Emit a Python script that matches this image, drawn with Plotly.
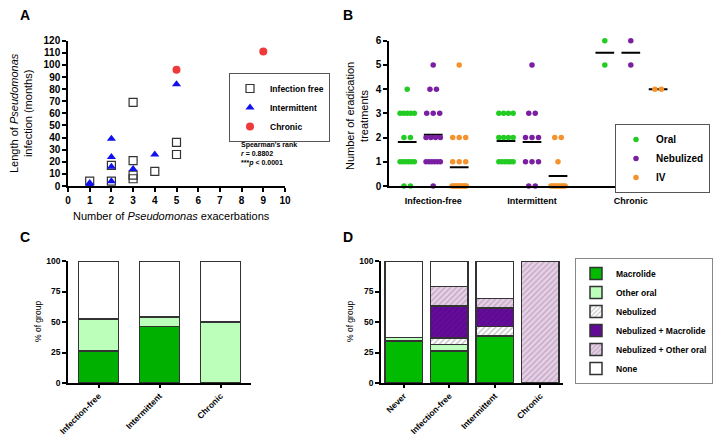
import plotly.graph_objects as go
from collections import Counter

# The page adds an 8px body margin; the figure is sized/placed to compensate.
OFF = 8
W, H = 721 - OFF, 438 - OFF
FONT = "Liberation Sans, Arial, sans-serif"

# ---------------- Panel A data ----------------
a_free_x = [1, 2, 2, 3, 3, 3, 3, 4, 5, 5]
a_free_y = [4, 17, 4, 69, 21, 9, 6, 12, 36, 26]
a_int_x = [1, 1, 2, 2, 2, 2, 3, 4, 5]
a_int_y = [2.5, 0.8, 39, 24, 16, 4, 14, 26, 84]
a_chr_x = [5, 9]
a_chr_y = [96, 111]

# ---------------- Panel B data ----------------
b_groups = ["Infection-free", "Intermittent", "Chronic"]
b_oral = [
    [4, 3, 3, 3, 3, 3, 2, 2, 1, 1, 1, 1, 1, 1, 0, 0],
    [3, 3, 3, 3, 2, 2, 2, 2, 1, 1, 1, 1, 1, 1],
    [6, 5],
]
b_neb = [
    [5, 4, 4, 3, 3, 3, 2, 2, 2, 2, 1, 1, 1, 1, 1, 1, 0],
    [5, 3, 3, 2, 2, 2, 1, 1, 1, 0, 0],
    [6, 5],
]
b_iv = [
    [5, 2, 2, 2, 1, 1, 1, 0, 0, 0, 0, 0, 0, 0, 0, 0, 0, 0],
    [2, 2, 1, 0, 0, 0, 0, 0, 0, 0, 0, 0],
    [4, 4],
]

# ---------------- Panel C data ----------------
c_cats = ["Infection-free", "Intermittent", "Chronic"]
c_macrolide = [26.3, 46.2, 0]
c_other_oral = [26.3, 7.7, 50]
c_none = [47.4, 46.1, 50]

# ---------------- Panel D data ----------------
d_cats = ["Never", "Infection-free", "Intermittent", "Chronic"]
d_macrolide = [34.4, 26.3, 38.5, 0]
d_other_oral = [3.1, 5.3, 0, 0]
d_nebulized = [0, 5.3, 7.7, 0]
d_neb_mac = [0, 26.3, 15.4, 0]
d_neb_other = [0, 15.8, 7.7, 100]
d_none = [62.5, 21.0, 30.7, 0]


def fx(p):
    return (p - OFF) / W


def fy(p):
    return 1 - (p - OFF) / H


def nz(vals):
    # empty segments are not drawn (avoids zero-height outlines)
    return [v if v > 0 else None for v in vals]


def swarm(vals, center):
    xs, ys = [], []
    cnt = Counter(vals)
    for v, n in cnt.items():
        sp = min(0.25, 0.55 / (n - 1)) if n > 1 else 0
        for i in range(n):
            xs.append(center + (i - (n - 1) / 2) * sp)
            ys.append(v)
    return xs, ys


fig = go.Figure()

# ---- Panel A ----
fig.add_trace(go.Scatter(x=a_free_x, y=a_free_y, mode="markers", name="Infection free",
                         marker=dict(symbol="square-open", size=8, color="#333333", line=dict(width=1.2)),
                         xaxis="x", yaxis="y", legend="legend", cliponaxis=False))
fig.add_trace(go.Scatter(x=a_int_x, y=a_int_y, mode="markers", name="Intermittent",
                         marker=dict(symbol="triangle-up", size=8, color="#1111ee"),
                         xaxis="x", yaxis="y", legend="legend", cliponaxis=False))
fig.add_trace(go.Scatter(x=a_chr_x, y=a_chr_y, mode="markers", name="Chronic",
                         marker=dict(symbol="circle", size=8, color="#ee3a3a"),
                         xaxis="x", yaxis="y", legend="legend", cliponaxis=False))

# ---- Panel B ----
b_offsets = [[0, 1, 2], [3.8, 4.8, 5.8], [7.6, 8.6, 9.65]]
b_series = [("Oral", b_oral, "#22cc22"), ("Nebulized", b_neb, "#7a1fa2"), ("IV", b_iv, "#f5922b")]
for si, (name, data, col) in enumerate(b_series):
    xs_all, ys_all = [], []
    for gi, vals in enumerate(data):
        xs, ys = swarm(vals, b_offsets[gi][si])
        xs_all += xs
        ys_all += ys
        m = sum(vals) / len(vals)
        c = b_offsets[gi][si]
        fig.add_trace(go.Scatter(x=[c - 0.36, c + 0.36], y=[m, m], mode="lines",
                                 line=dict(color="black", width=2), showlegend=False,
                                 xaxis="x2", yaxis="y2", cliponaxis=False, hoverinfo="skip"))
    fig.add_trace(go.Scatter(x=xs_all, y=ys_all, mode="markers", name=name,
                             marker=dict(size=5.5, color=col), xaxis="x2", yaxis="y2",
                             legend="legend2", cliponaxis=False))

# ---- Panel C ----
bar_line = dict(color="#333333", width=1.5)
for vals, col in [(c_macrolide, "#00b000"), (c_other_oral, "#bbffbb"), (c_none, "#ffffff")]:
    fig.add_trace(go.Bar(x=c_cats, y=nz(vals), marker=dict(color=col, line=bar_line), width=0.66,
                         showlegend=False, xaxis="x3", yaxis="y3"))

# ---- Panel D ----
d_series = [
    ("Macrolide", d_macrolide, dict(color="#00bb00")),
    ("Other oral", d_other_oral, dict(color="#bbffbb")),
    ("Nebulized", d_nebulized, dict(color="#ffffff", pattern=dict(shape="/", fgcolor="#888888", bgcolor="#ffffff", size=4, solidity=0.35))),
    ("Nebulized + Macrolide", d_neb_mac, dict(color="#5c0a8e", pattern=dict(shape="/", fgcolor="#4a0575", bgcolor="#660c9c", size=4, solidity=0.3))),
    ("Nebulized + Other oral", d_neb_other, dict(color="#dcc4dc", pattern=dict(shape="/", fgcolor="#a07aa0", bgcolor="#e6d2e6", size=4, solidity=0.35))),
    ("None", d_none, dict(color="#ffffff")),
]
for name, vals, mk in d_series:
    mk = dict(mk)
    mk["line"] = bar_line
    fig.add_trace(go.Bar(x=d_cats, y=nz(vals), name=name, marker=mk, width=0.83,
                         xaxis="x4", yaxis="y4", legend="legend3"))

tickf = dict(size=10, color="black", weight="bold")
tickf9 = dict(size=9, color="black", weight="bold")
tickf_small = dict(size=8.5, color="black", weight="bold")
base_ax = dict(showline=True, linecolor="black", linewidth=1.5, ticks="outside", ticklen=4,
               tickwidth=1.5, tickcolor="black", showgrid=False, zeroline=False, tickfont=tickf,
               automargin=False)

fig.update_layout(
    width=W, height=H, margin=dict(l=0, r=0, t=0, b=0),
    paper_bgcolor="white", plot_bgcolor="white",
    font=dict(family=FONT, color="black"),
    barmode="stack", bargap=0.3,
    xaxis=dict(base_ax, domain=[fx(68), fx(285)], range=[0, 10], dtick=1, anchor="y"),
    yaxis=dict(base_ax, domain=[fy(186), fy(40.7)], range=[0, 120], dtick=10, anchor="x"),
    xaxis2=dict(base_ax, domain=[fx(389), fx(675)], range=[-0.7, 10.3], anchor="y2",
                tickvals=[1, 4.8, 8.6], ticktext=b_groups, ticklen=5,
                tickcolor="rgba(0,0,0,0)", tickfont=tickf9),
    yaxis2=dict(base_ax, domain=[fy(186), fy(40.7)], range=[0, 6], dtick=1, anchor="x2"),
    xaxis3=dict(base_ax, domain=[fx(68), fx(251)], range=[-0.5, 2.5], anchor="y3",
                tickangle=-45, tickfont=tickf_small, ticklen=3),
    yaxis3=dict(base_ax, domain=[fy(383), fy(261)], range=[0, 100], dtick=25, anchor="x3",
                tickfont=tickf_small),
    xaxis4=dict(base_ax, domain=[fx(381), fx(563)], range=[-0.5, 3.5], anchor="y4",
                tickangle=-45, tickfont=tickf_small, ticklen=3),
    yaxis4=dict(base_ax, domain=[fy(383), fy(261)], range=[0, 100], dtick=25, anchor="x4",
                tickfont=tickf_small),
    legend=dict(x=fx(229), y=fy(73), xanchor="left", yanchor="top", bordercolor="#555555",
                borderwidth=1, bgcolor="white", font=dict(size=8.5, weight="bold"),
                traceorder="normal", itemwidth=30, tracegroupgap=0),
    legend2=dict(x=fx(710), y=fy(124), xanchor="right", yanchor="top", bordercolor="#555555",
                 borderwidth=1, bgcolor="white", font=dict(size=10, weight="bold"),
                 traceorder="normal", itemwidth=30),
    legend3=dict(x=fx(713), y=fy(258), xanchor="right", yanchor="top", bordercolor="#888888",
                 borderwidth=1, bgcolor="white", font=dict(size=8.5, weight="bold"),
                 traceorder="normal", itemwidth=30),
)

ann = []
for txt, x, y in [("A", 25, 15), ("B", 348, 15), ("C", 25, 237), ("D", 348, 237)]:
    ann.append(dict(text=txt, x=fx(x), y=fy(y), xref="paper", yref="paper", showarrow=False,
                    xanchor="center", yanchor="middle", font=dict(size=14, weight="bold")))
ann += [
    dict(text="Number of <i>Pseudomonas</i> exacerbations", x=fx(171), y=fy(216), xref="paper",
         yref="paper", showarrow=False, xanchor="center", yanchor="middle", font=dict(size=11)),
    dict(text="Length of <i>Pseudomonas</i><br>infection (months)", x=fx(21), y=fy(113), xref="paper",
         yref="paper", showarrow=False, xanchor="center", yanchor="middle", textangle=-90,
         font=dict(size=11)),
    dict(text="Number of eradication<br>treatments", x=fx(357), y=fy(116), xref="paper",
         yref="paper", showarrow=False, xanchor="center", yanchor="middle", textangle=-90,
         font=dict(size=11)),
    dict(text="% of group", x=fx(38), y=fy(322), xref="paper", yref="paper", showarrow=False,
         xanchor="center", yanchor="middle", textangle=-90, font=dict(size=8.5)),
    dict(text="% of group", x=fx(350), y=fy(322), xref="paper", yref="paper", showarrow=False,
         xanchor="center", yanchor="middle", textangle=-90, font=dict(size=8.5)),
    dict(text="Spearman's rank<br><i>r</i> = 0.8802<br>***<i>p</i> < 0.0001", x=fx(239), y=fy(139),
         xref="paper", yref="paper", xanchor="left", yanchor="top", align="left", showarrow=False,
         font=dict(size=7, weight="bold")),
]
fig.update_layout(annotations=ann)

fig.write_html("out.html")
